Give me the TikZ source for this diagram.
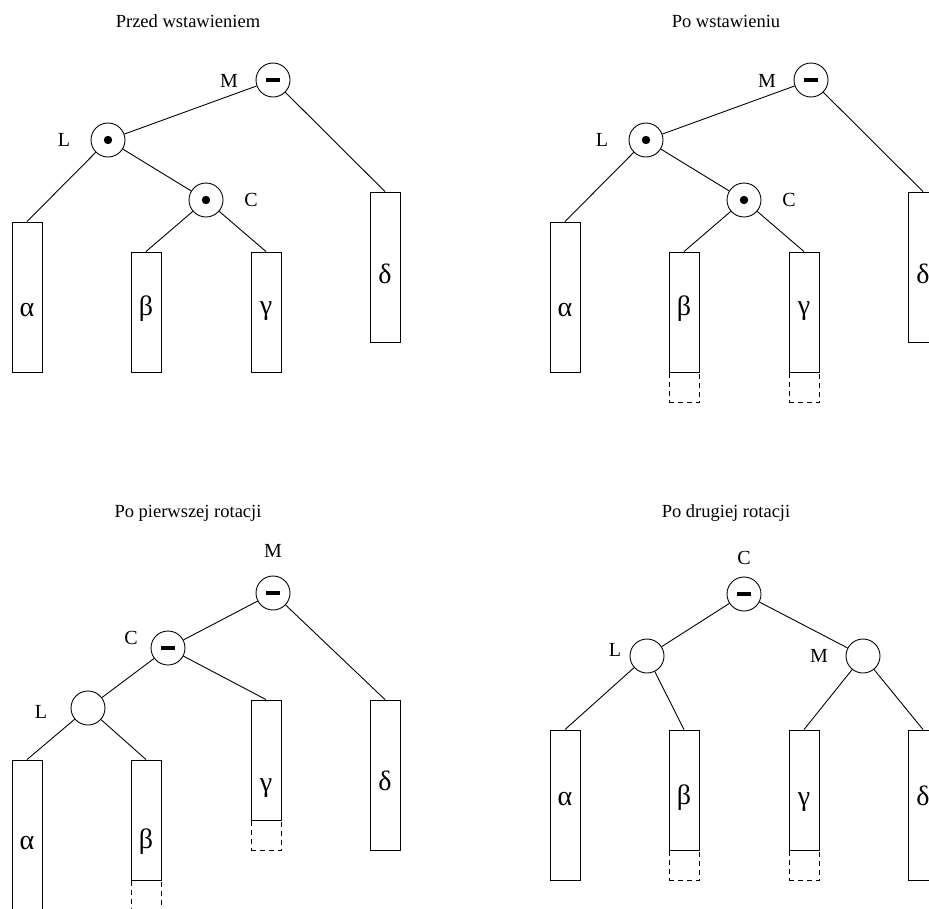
\documentclass[tikz,border=0pt]{standalone}
\usepackage{fontspec}
\setmainfont{Liberation Serif}
\begin{document}
\begin{tikzpicture}[x=1pt,y=-1pt,
  every node/.style={font=\fontsize{18.5}{22}\selectfont},
  tnode/.style={draw,circle,line width=0.9pt,minimum size=34pt,inner sep=0pt},
  tminus/.style={tnode,path picture={\fill[black]
      ([xshift=-7pt,yshift=-1.6pt]path picture bounding box.center) rectangle ++(14pt,3.2pt);}},
  tdot/.style={tnode,path picture={\fill[black]
      (path picture bounding box.center) circle (4.2pt);}},
  leaf/.style={draw,rectangle,line width=0.9pt,minimum width=30pt,inner sep=0pt},
  % Greek name of a subtree, placed by its baseline
  gk/.style={inner sep=0pt,anchor=base,font=\fontsize{28}{32}\selectfont},
  ext/.style={draw,rectangle,dashed,dash pattern=on 5pt off 4pt,line width=0.9pt,
      minimum width=30pt,minimum height=30pt,inner sep=0pt,anchor=north},
  lab/.style={inner sep=0pt,font=\fontsize{20}{24}\selectfont},
  ttl/.style={inner sep=0pt},
  edge/.style={line width=0.9pt}]
\useasboundingbox (0,0) rectangle (929,908);
\clip (0,0) rectangle (929,908);

% ---------- before insertion ----------
\node[ttl] (t1) at (188,21) {Przed wstawieniem};
\node[tminus] (m1) at (273,80) {};
\node[tdot] (l1) at (108,140) {};
\node[tdot] (c1) at (206,200) {};
\node[lab] (m1lab) at (229,81) {M};
\node[lab] (l1lab) at (64,140) {L};
\node[lab] (c1lab) at (251,200) {C};
\node[leaf,minimum height=150pt] (a1) at (27,297) {};
\node[leaf,minimum height=120pt] (b1) at (146,312) {};
\node[leaf,minimum height=120pt] (g1) at (266,312) {};
\node[leaf,minimum height=150pt] (d1) at (385,267) {};
\node[gk] (a1t) at (27,316) {α};
\node[gk] (b1t) at (146,315) {β};
\node[gk] (g1t) at (266,314) {γ};
\node[gk] (d1t) at (385,283) {δ};
\draw[edge] (m1) -- (l1);
\draw[edge] (m1) -- (d1.north);
\draw[edge] (l1) -- (a1.north);
\draw[edge] (l1) -- (c1);
\draw[edge] (c1) -- (b1.north);
\draw[edge] (c1) -- (g1.north);

% ---------- after insertion ----------
\node[ttl] (t2) at (726,21) {Po wstawieniu};
\node[tminus] (m2) at (811,80) {};
\node[tdot] (l2) at (646,140) {};
\node[tdot] (c2) at (744,200) {};
\node[lab] (m2lab) at (767,81) {M};
\node[lab] (l2lab) at (602,140) {L};
\node[lab] (c2lab) at (789,200) {C};
\node[leaf,minimum height=150pt] (a2) at (565,297) {};
\node[leaf,minimum height=120pt] (b2) at (684,312) {};
\node[leaf,minimum height=120pt] (g2) at (804,312) {};
\node[leaf,minimum height=150pt] (d2) at (923,267) {};
\node[gk] (a2t) at (565,316) {α};
\node[gk] (b2t) at (684,315) {β};
\node[gk] (g2t) at (804,314) {γ};
\node[gk] (d2t) at (923,283) {δ};
\node[ext] (b2x) at (b2.south) {};
\node[ext] (g2x) at (g2.south) {};
\draw[edge] (m2) -- (l2);
\draw[edge] (m2) -- (d2.north);
\draw[edge] (l2) -- (a2.north);
\draw[edge] (l2) -- (c2);
\draw[edge] (c2) -- (b2.north);
\draw[edge] (c2) -- (g2.north);

% ---------- after the first rotation ----------
\node[ttl] (t3) at (188,513) {Po pierwszej rotacji};
\node[tminus] (m3) at (273,593) {};
\node[tminus] (c3) at (168,648) {};
\node[tnode] (l3) at (88,708) {};
\node[lab] (m3lab) at (273,551) {M};
\node[lab] (c3lab) at (131,638) {C};
\node[lab] (l3lab) at (41,712) {L};
\node[leaf,minimum height=150pt] (a3) at (27,835) {};
\node[leaf,minimum height=120pt] (b3) at (146,820) {};
\node[leaf,minimum height=120pt] (g3) at (266,760) {};
\node[leaf,minimum height=150pt] (d3) at (385,775) {};
\node[gk] (a3t) at (27,849) {α};
\node[gk] (b3t) at (146,848) {β};
\node[gk] (g3t) at (266,791) {γ};
\node[gk] (d3t) at (385,790) {δ};
\node[ext] (b3x) at (b3.south) {};
\node[ext] (g3x) at (g3.south) {};
\draw[edge] (m3) -- (c3);
\draw[edge] (m3) -- (d3.north);
\draw[edge] (c3) -- (l3);
\draw[edge] (c3) -- (g3.north);
\draw[edge] (l3) -- (a3.north);
\draw[edge] (l3) -- (b3.north);

% ---------- after the second rotation ----------
\node[ttl] (t4) at (726,513) {Po drugiej rotacji};
\node[tminus] (c4) at (744,594) {};
\node[tnode] (l4) at (647,656) {};
\node[tnode] (m4) at (863,656) {};
\node[lab] (c4lab) at (744,558) {C};
\node[lab] (l4lab) at (615,650) {L};
\node[lab] (m4lab) at (819,656) {M};
\node[leaf,minimum height=150pt] (a4) at (565,805) {};
\node[leaf,minimum height=120pt] (b4) at (684,790) {};
\node[leaf,minimum height=120pt] (g4) at (804,790) {};
\node[leaf,minimum height=150pt] (d4) at (923,805) {};
\node[gk] (a4t) at (565,805) {α};
\node[gk] (b4t) at (684,804) {β};
\node[gk] (g4t) at (804,805) {γ};
\node[gk] (d4t) at (923,805) {δ};
\node[ext] (b4x) at (b4.south) {};
\node[ext] (g4x) at (g4.south) {};
\draw[edge] (c4) -- (l4);
\draw[edge] (c4) -- (m4);
\draw[edge] (l4) -- (a4.north);
\draw[edge] (l4) -- (b4.north);
\draw[edge] (m4) -- (g4.north);
\draw[edge] (m4) -- (d4.north);
\end{tikzpicture}
\end{document}
